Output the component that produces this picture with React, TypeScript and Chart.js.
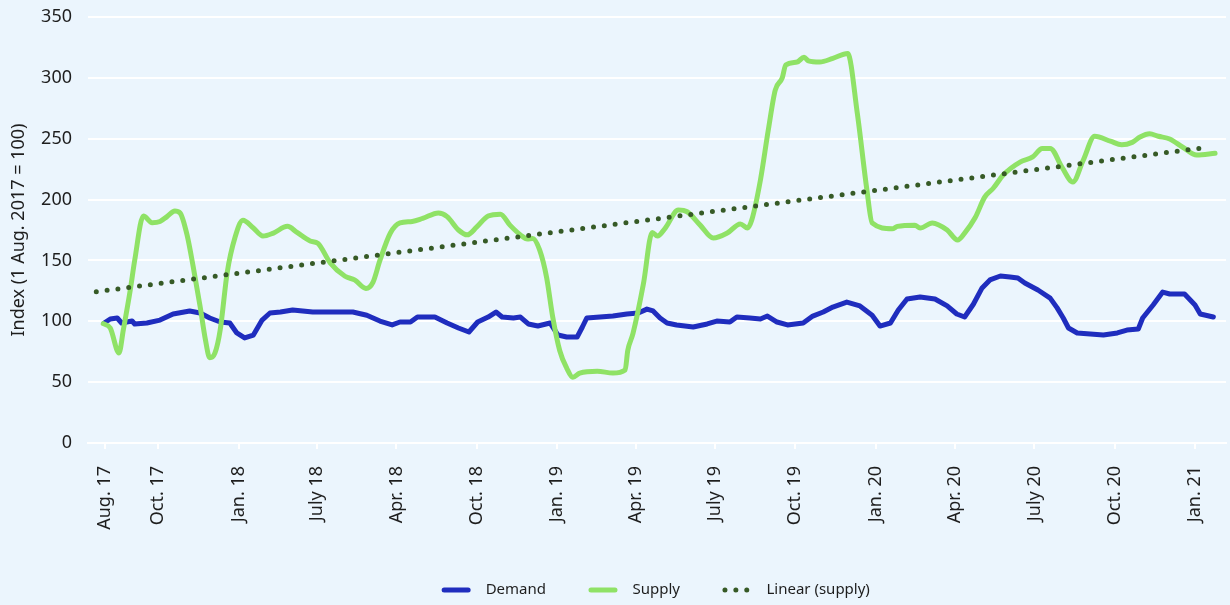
import React, { useEffect, useRef } from "react";
import { Chart, registerables } from "chart.js";

Chart.register(...registerables);

// Day offsets from 1 Aug. 2017 for the axis ticks, with the labels as printed in the original
const tickDays = [0, 61, 153, 243, 334, 426, 518, 608, 699, 791, 883, 974, 1065, 1157, 1249];
const tickLabels = [
  "Aug. 17", "Oct. 17", "Jan. 18", "July 18", "Apr. 18", "Oct. 18", "Jan. 19",
  "Apr. 19", "July 19", "Oct. 19", "Jan. 20", "Apr. 20", "July 20", "Oct. 20", "Jan. 21",
];

const yTicks = [0, 50, 100, 150, 200, 250, 300, 350];

const seriesNames = ["Demand", "Supply", "Linear (supply)"];

// Demand index (days since 1 Aug. 2017)
const demandDays = [
  -1, 6, 14, 19, 25, 31, 34, 48, 63, 78, 97, 109, 120, 132, 143, 151, 160, 170, 180, 189,
  201, 215, 238, 261, 284, 300, 315, 329, 338, 350, 358, 369, 378, 392, 405, 417, 427, 439,
  448, 455, 468, 476, 485, 496, 510, 519, 529, 541, 547, 552, 567, 582, 598, 611, 621, 628,
  636, 644, 655, 674, 690, 701, 716, 724, 739, 751, 759, 770, 782, 800, 811, 823, 834, 850,
  865, 879, 888, 900, 909, 919, 934, 951, 965, 976, 985, 995, 1005, 1014, 1026, 1037, 1046,
  1054, 1069, 1083, 1091, 1098, 1104, 1114, 1129, 1144, 1160, 1171, 1184, 1189, 1201, 1212,
  1220, 1237, 1249, 1255, 1270,
];
const demandValues = [
  98.6, 101.9, 102.7, 98.6, 99.4, 100.2, 97.8, 98.6, 101, 106, 108.5, 106.8, 102.7, 99.4, 98.6,
  90.4, 86.3, 88.7, 101, 106.8, 107.6, 109.3, 107.6, 107.6, 107.6, 105, 100.2, 97, 99.4, 99.4,
  103.5, 103.5, 103.5, 98.6, 94.5, 91.2, 99.4, 103.5, 107.6, 103.5, 102.7, 103.5, 97.8, 96.1,
  98.6, 88.7, 87.1, 87.1, 95.3, 102.7, 103.5, 104.3, 106, 106.8, 110, 108.5, 102.7, 98.6, 97,
  95.3, 97.8, 100.2, 99.4, 103.5, 102.7, 101.9, 104.3, 99.4, 97, 98.6, 104.3, 107.6, 111.7,
  115.8, 112.6, 105, 96.1, 98.6, 109.3, 118.3, 120, 118.3, 112.6, 106, 103.5, 114, 127.4, 134,
  137.2, 136.4, 135.6, 131.5, 125.7, 119, 111, 102.7, 94.5, 90.4, 89.6, 88.7, 90.4, 92.8, 93.7,
  102.7, 113.4, 124, 122.4, 122.4, 113.4, 106, 103.5,
];

// Supply index (days since 1 Aug. 2017)
const supplyDays = [
  -2, 6, 16, 21, 29, 34, 44, 54, 63, 71, 80, 86, 94, 101, 109, 115, 120, 126, 132, 140, 149,
  158, 170, 181, 193, 209, 220, 235, 244, 258, 275, 286, 299, 307, 315, 327, 338, 352, 364,
  382, 392, 405, 415, 426, 439, 453, 464, 476, 484, 490, 498, 506, 513, 521, 529, 536, 544,
  564, 582, 596, 599, 605, 617, 627, 633, 642, 657, 667, 682, 697, 713, 728, 736, 741, 751,
  760, 768, 776, 780, 793, 801, 806, 819, 834, 851, 862, 873, 879, 902, 908, 928, 934, 948,
  965, 977, 985, 997, 1008, 1018, 1029, 1049, 1063, 1074, 1083, 1097, 1109, 1121, 1134, 1152,
  1165, 1177, 1186, 1197, 1207, 1220, 1235, 1251, 1272,
];
const supplyValues = [
  98, 94.5, 74, 93, 126, 150, 186.5, 181, 182, 186, 190.6, 189, 171, 145, 112, 85, 70, 74, 93,
  140, 169, 183, 176.6, 170, 172.5, 178, 173, 166, 164, 148, 137, 134, 127, 132, 150, 172.5,
  180.8, 182, 184.5, 189, 186, 175, 171, 177.5, 186.5, 188, 179, 171, 167.6, 168, 158.6, 136,
  103.5, 76, 61.6, 54, 57.5, 59, 57.5, 60, 76, 90, 131, 173, 170, 176.6, 191.4, 190, 179,
  168.4, 172.5, 180, 176.6, 183, 216, 257, 290, 300, 310.6, 313, 317, 314, 313, 316, 320, 271,
  208, 180.8, 176, 178, 179, 176.6, 180.8, 175, 166.8, 172.5, 185, 202, 209.5, 220, 231, 235,
  242, 242, 226, 214.5, 232.5, 252, 248, 245, 247, 251.4, 254, 252, 249.8, 243, 236.6, 238,
];

// Linear trend of supply (end points)
const trendDays = [-10, 1257];
const trendValues = [124.3, 242.4];

const FONT = "'Noto Sans', 'Open Sans', 'DejaVu Sans', sans-serif";
const TEXT = "#1e1e1e";
const BG = "#ebf5fd";

// Legend drawn on the canvas, centred under the plot area
const lineLegend = {
  id: "lineLegend",
  afterDraw(chart: any) {
    const ctx = chart.ctx;
    const area = chart.chartArea;
    const sampleW = 24;
    const textGap = 17.5;
    const itemGap = 45;
    const y = 590;
    ctx.save();
    ctx.font = `15px ${FONT}`;
    const items = chart.data.datasets.map((ds: any) => ({
      ds,
      w: ctx.measureText(ds.label).width,
    }));
    const total =
      items.reduce((s: number, it: any) => s + sampleW + textGap + it.w, 0) +
      itemGap * (items.length - 1);
    let x = (area.left + area.right) / 2 - total / 2;
    for (const it of items) {
      ctx.beginPath();
      ctx.lineWidth = it.ds.borderWidth;
      ctx.lineCap = "round";
      ctx.strokeStyle = it.ds.borderColor;
      ctx.setLineDash(it.ds.borderDash || []);
      ctx.moveTo(x, y);
      ctx.lineTo(x + sampleW, y);
      ctx.stroke();
      ctx.setLineDash([]);
      ctx.fillStyle = TEXT;
      ctx.textBaseline = "middle";
      ctx.textAlign = "left";
      ctx.fillText(it.ds.label, x + sampleW + textGap, y);
      x += sampleW + textGap + it.w + itemGap;
    }
    ctx.restore();
  },
};

export default function App() {
  const canvasRef = useRef<HTMLCanvasElement | null>(null);

  useEffect(() => {
    document.body.style.margin = "0";
    document.body.style.background = BG;
    const canvas = canvasRef.current;
    if (!canvas) return;
    const toPts = (xs: number[], ys: number[]) => xs.map((x, i) => ({ x, y: ys[i] }));

    const chart = new Chart(canvas, {
      type: "line",
      data: {
        datasets: [
          {
            label: seriesNames[0],
            data: toPts(demandDays, demandValues),
            borderColor: "#1f2dbe",
            backgroundColor: "#1f2dbe",
            borderWidth: 5,
            borderCapStyle: "round",
            borderJoinStyle: "round",
            pointRadius: 0,
            tension: 0,
            order: 3,
          },
          {
            label: seriesNames[1],
            data: toPts(supplyDays, supplyValues),
            borderColor: "#8fe266",
            backgroundColor: "#8fe266",
            borderWidth: 5,
            borderCapStyle: "round",
            borderJoinStyle: "round",
            pointRadius: 0,
            cubicInterpolationMode: "monotone",
            order: 2,
          },
          {
            label: seriesNames[2],
            data: toPts(trendDays, trendValues),
            borderColor: "#365a26",
            backgroundColor: "#365a26",
            borderWidth: 5,
            borderCapStyle: "round",
            borderDash: [0, 10.9],
            pointRadius: 0,
            tension: 0,
            order: 1,
          },
        ],
      },
      options: {
        responsive: false,
        animation: false,
        devicePixelRatio: 1,
        layout: { padding: { top: 17, right: 4, left: 0, bottom: 0 } },
        plugins: {
          tooltip: { enabled: false },
          legend: { display: false },
        },
        scales: {
          x: {
            type: "linear",
            min: -19.5,
            max: 1284.5,
            afterBuildTicks: (scale: any) => {
              scale.ticks = tickDays.map((v) => ({ value: v }));
            },
            afterFit: (scale: any) => {
              scale.height = 162;
              scale.paddingLeft = 0;
              scale.paddingRight = 0;
            },
            ticks: {
              autoSkip: false,
              minRotation: 90,
              maxRotation: 90,
              padding: 17,
              color: TEXT,
              font: { family: FONT, size: 18 },
              callback: (_v: any, i: number) => tickLabels[i],
            },
            grid: {
              drawOnChartArea: false,
              drawTicks: true,
              tickLength: 6,
              color: "#ffffff",
              lineWidth: 2,
            },
            border: { display: true, color: "#ffffff", width: 2 },
          },
          y: {
            min: 0,
            max: 350,
            afterBuildTicks: (scale: any) => {
              scale.ticks = yTicks.map((v) => ({ value: v }));
            },
            afterFit: (scale: any) => {
              scale.width = 88;
              scale.paddingTop = 0;
              scale.paddingBottom = 0;
            },
            ticks: {
              padding: 16,
              color: TEXT,
              font: { family: FONT, size: 18 },
            },
            grid: { color: "#ffffff", lineWidth: 2, drawTicks: false },
            border: { display: false },
            title: {
              display: true,
              text: "Index (1 Aug. 2017 = 100)",
              color: TEXT,
              font: { family: FONT, size: 18 },
              padding: { top: 8, bottom: 0 },
            },
          },
        },
      },
      plugins: [lineLegend],
    } as any);
    return () => chart.destroy();
  }, []);

  return (
    <div style={{ width: 1230, height: 605, background: BG, overflow: "hidden" }}>
      <canvas ref={canvasRef} width={1230} height={605} style={{ display: "block" }} />
    </div>
  );
}
